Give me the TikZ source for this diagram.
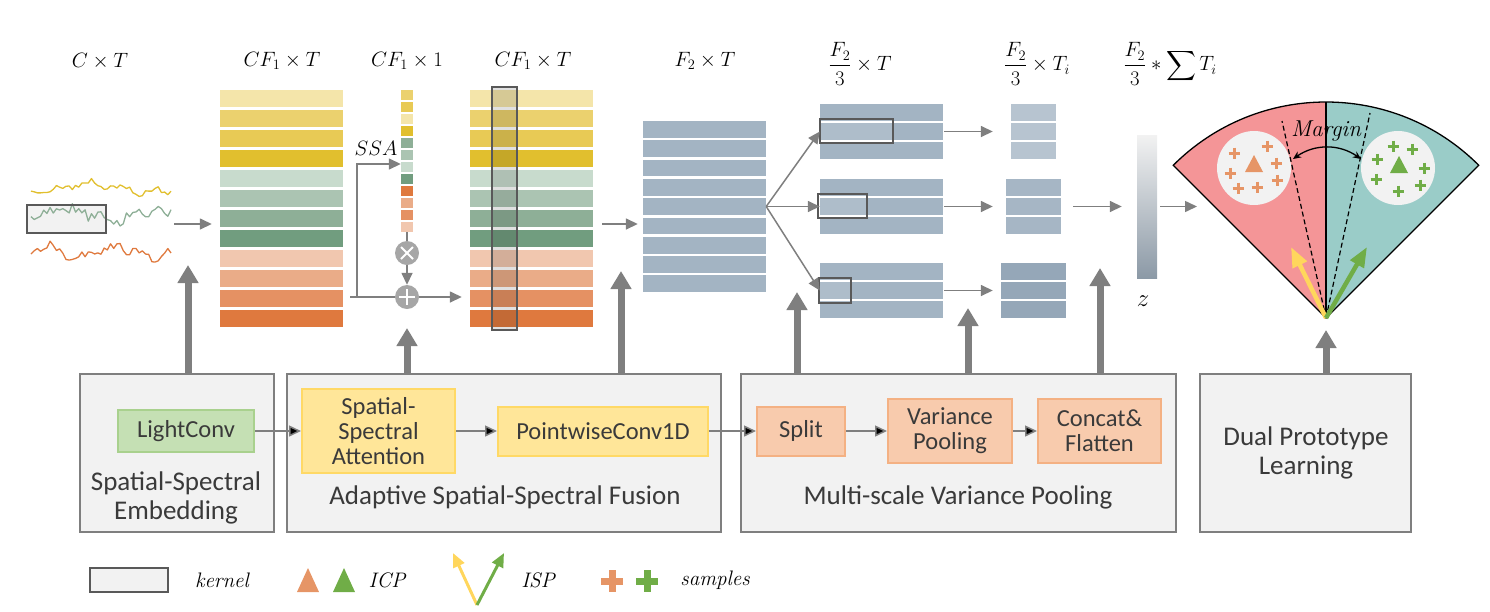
\documentclass[tikz,border=0pt]{standalone}
\usepackage{amsmath}
\usepackage{fontspec}
\newfontfamily\carlito{Carlito}
\usetikzlibrary{arrows.meta,positioning,calc}

\definecolor{ylwA}{HTML}{F4E5AA}
\definecolor{ylwB}{HTML}{EBD16E}
\definecolor{ylwC}{HTML}{E8CA55}
\definecolor{ylwD}{HTML}{E1BF2E}
\definecolor{grnA}{HTML}{C8DBCD}
\definecolor{grnB}{HTML}{ABC4B2}
\definecolor{grnC}{HTML}{8EAF97}
\definecolor{grnD}{HTML}{719D7F}
\definecolor{orgA}{HTML}{F1C7AF}
\definecolor{orgB}{HTML}{EAAC88}
\definecolor{orgC}{HTML}{E59163}
\definecolor{orgD}{HTML}{DF793E}
\definecolor{bluM}{HTML}{A3B4C3}
\definecolor{bluA}{HTML}{B7C4D0}
\definecolor{bluB}{HTML}{A6B6C5}
\definecolor{bluC}{HTML}{95A7B8}
\definecolor{arrgray}{HTML}{7F7F7F}
\definecolor{boxfill}{HTML}{F2F2F2}
\definecolor{kerngray}{HTML}{595959}
\definecolor{txtgray}{HTML}{3A3A3A}
\definecolor{lcfill}{HTML}{C5E0B4}
\definecolor{lcdraw}{HTML}{A9D18E}
\definecolor{yfill}{HTML}{FFE699}
\definecolor{ydraw}{HTML}{FFD966}
\definecolor{ofill}{HTML}{F8CBAD}
\definecolor{odraw}{HTML}{F4B183}
\definecolor{fanred}{HTML}{F49597}
\definecolor{fanteal}{HTML}{9ACCC8}
\definecolor{markorg}{HTML}{E69566}
\definecolor{markgrn}{HTML}{70AD47}
\definecolor{ispylw}{HTML}{FFD65C}

\begin{document}
\begin{tikzpicture}[x=1pt, y=-1pt,
    lbl/.style={font=\fontsize{22}{26}\selectfont},
    leg/.style={font=\fontsize{21}{24}\selectfont\itshape},
    txt/.style={font=\carlito\fontsize{27}{29}\selectfont, text=txtgray, align=center},
    outer/.style={draw=arrgray, fill=boxfill, line width=2.5pt, minimum height=158pt, inner sep=0pt},
    inbox/.style={line width=2pt, inner sep=0pt, align=center, text=txtgray,
        font=\carlito\fontsize{24.5}{25}\selectfont},
    greenbox/.style={inbox, fill=lcfill, draw=lcdraw},
    yellowbox/.style={inbox, fill=yfill, draw=ydraw},
    orangebox/.style={inbox, fill=ofill, draw=odraw},
    stack/.style={inner sep=0pt, draw=none},
    kernel/.style={draw=kerngray, line width=2pt},
    signal/.style={line width=1.3pt, line join=round},
    thin arrow/.style={draw=arrgray, line width=1.5pt, -{Triangle[length=12pt,width=11pt]}},
    big arrow/.style={draw=arrgray, line width=7pt, -{Triangle[length=18pt,width=20pt]}},
    opcircle/.style={circle, fill=black!35, minimum size=24pt, inner sep=0pt},
    sample/.style={line width=3pt},
    ]
    \useasboundingbox (0,0) rectangle (1490,611);

    % Top labels
    \node[lbl] (dimA) at (100,61) {$C\times T$};
    \node[lbl] (dimB) at (282,61) {$CF_1\times T$};
    \node[lbl] (dimC) at (407,61) {$CF_1\times 1$};
    \node[lbl] (dimD) at (533,61) {$CF_1\times T$};
    \node[lbl] (dimE) at (705,61) {$F_2\times T$};
    \node[lbl] (dimF) at (860,64) {$\dfrac{F_2}{3}\times T$};
    \node[lbl] (dimG) at (1037,64) {$\dfrac{F_2}{3}\times T_i$};
    \node[lbl] (dimH) at (1170,64) {$\dfrac{F_2}{3}*\displaystyle\sum T_i$};

    % Input signals
    \fill[boxfill] (27,205) rectangle (106,233);
    \pgfmathsetseed{11}
    \draw[signal, ylwD] plot[domain=31:171, samples=45] (\x,{188+4*sin(3*\x)+3*sin(11*\x)+3*rand});
    \draw[signal, grnC] plot[domain=31:171, samples=45] (\x,{215+5*sin(4*\x)+3*sin(13*\x)+5*rand});
    \draw[signal, orgD] plot[domain=31:171, samples=45] (\x,{252+5*sin(5*\x+40)+3*sin(12*\x)+4*rand});
    \draw[kernel] (27,205) rectangle (106,233);
    \node[stack, minimum width=146pt, minimum height=90pt] (sig) at (100,224) {};

    % Feature stacks
    \foreach \c [count=\i from 0] in {ylwA,ylwB,ylwC,ylwD,grnA,grnB,grnC,grnD,orgA,orgB,orgC,orgD} {
        \fill[\c] (220,{90+20*\i}) rectangle ++(123,17);
        \fill[\c] (470,{90+20*\i}) rectangle ++(123,17);
    }
    \node[stack, minimum width=123pt, minimum height=238pt] (feat) at (281.5,209) {};
    \node[stack, minimum width=123pt, minimum height=238pt] (feat2) at (531.5,209) {};
    \foreach \c [count=\i from 0] in {ylwB,ylwC,ylwA,ylwD,grnC,grnB,grnA,grnD,orgD,orgB,orgC,orgA} {
        \fill[\c] (401,{90+12*\i}) rectangle ++(12,10);
    }
    \node[stack, minimum width=12pt, minimum height=142pt] (att) at (407,161) {};
    \draw[kernel, fill=black, fill opacity=0.12] (492,87) rectangle (517,330);

    % SSA branch
    \node[opcircle] (mul) at (407,253) {};
    \node[opcircle] (add) at (407,297) {};
    \draw[white, line width=2pt] ([shift={(-6,-6)}]mul.center) -- ([shift={(6,6)}]mul.center)
        ([shift={(-6,6)}]mul.center) -- ([shift={(6,-6)}]mul.center);
    \draw[white, line width=2pt] ([shift={(-8,0)}]add.center) -- ([shift={(8,0)}]add.center)
        ([shift={(0,-8)}]add.center) -- ([shift={(0,8)}]add.center);
    \coordinate (br) at (357,297);
    \draw[arrgray, line width=1.5pt] (att) -- (mul);
    \draw[thin arrow] (mul) -- (add);
    \draw[arrgray, line width=1.5pt, shorten <=7pt] (feat.east |- add) -- (add);
    \draw[thin arrow, shorten >=8pt] (add) -- (add -| feat2.west);
    \draw[thin arrow] (br) |- (att.west |- 0,164);
    \node[lbl] (ssalbl) at (376,148) {$SSA$};

    % Fused features
    \foreach \i in {0,...,8} {
        \fill[bluM] (643,{121+19.3*\i}) rectangle ++(123,16.7);
    }
    \node[stack, minimum width=123pt, minimum height=171pt] (fuse) at (704.5,206.5) {};

    % Split stacks and pooled stacks
    \foreach \name/\top/\pw/\pc in {sA/104/45/bluA, sB/179/55/bluB, sC/263/65/bluC} {
        \foreach \i in {0,1,2} {
            \fill[bluM] (820,{\top+19*\i}) rectangle ++(123,17);
            \fill[\pc] ({1033.5-\pw/2},{\top+19*\i}) rectangle ++(\pw,17);
        }
        \node[stack, minimum width=123pt, minimum height=55pt] (\name) at (881.5,{\top+27.5}) {};
        \node[stack, minimum width=\pw pt, minimum height=55pt] (p\name) at (1033.5,{\top+27.5}) {};
    }
    \draw[kernel, fill=white, fill opacity=0.12] (820,119) rectangle (893,143);
    \draw[kernel, fill=white, fill opacity=0.12] (818,194) rectangle (867,218);
    \draw[kernel, fill=white, fill opacity=0.12] (819,278) rectangle (851,303);

    % Embedding z
    \shade[top color=boxfill, bottom color=bluC!85!black!90] (1137,135) rectangle (1157,278);
    \node[stack, minimum width=20pt, minimum height=143pt] (zvec) at (1147,206.5) {};
    \node[lbl, font=\fontsize{27}{30}\selectfont] (zlbl) at (1143,301) {$z$};

    % Paths
    \draw[thin arrow] ([shift={(1,0)}]sig.east) -- ([shift={(-8,0)}]sig.east -| feat.west);
    \draw[thin arrow, shorten <=9pt, shorten >=5pt] (feat2.east |- sig.east) -- (sig.east -| fuse.west);
    \draw[thin arrow] (fuse.east) -- (sA.west);
    \draw[thin arrow] (fuse.east) -- (sB.west);
    \draw[thin arrow] (fuse.east) -- (sC.west);
    \draw[thin arrow, shorten <=1pt, shorten >=18pt] (sA) -- (psA);
    \draw[thin arrow, shorten <=1pt, shorten >=13pt] (sB) -- (psB);
    \draw[thin arrow, shorten <=1pt, shorten >=8pt] (sC) -- (psC);
    \draw[thin arrow, shorten <=12pt, shorten >=15pt] (psB) -- (zvec);
    \coordinate (fanin) at (1197,206.5);
    \draw[thin arrow, shorten <=3pt] (zvec) -- (fanin);

    % Prototype fan
    \coordinate (apex) at (1326,318);
    \fill[fanred] (apex) -- ++(-135:216) arc (-135:-90:216) -- cycle;
    \fill[fanteal] (apex) -- ++(-90:216) arc (-90:-45:216) -- cycle;
    \draw[line width=1.3pt] (apex) -- ++(-135:216) arc (-135:-45:216) -- cycle;
    \draw[line width=1.3pt] (apex) -- ++(-90:216);
    \fill[boxfill] (1254,168) circle (37);
    \fill[boxfill] (1398,168) circle (37);
    \draw[dashed, line width=1.2pt, dash pattern=on 5pt off 3pt] (apex) -- (1282,121);
    \draw[dashed, line width=1.2pt, dash pattern=on 5pt off 3pt] (apex) -- (1370,113);
    \fill[markorg] (1254,155) -- (1263,172) -- (1245,172) -- cycle;
    \fill[markgrn] (1399,156) -- (1408,173) -- (1390,173) -- cycle;
    \foreach \px/\py in {1234/153, 1267/146, 1276/163, 1230/173, 1277/180, 1257/187, 1238/188} {
        \draw[sample, markorg] (\px-5.5,\py) -- (\px+5.5,\py) (\px,\py-5.5) -- (\px,\py+5.5);
    }
    \foreach \px/\py in {1377/159, 1393/146, 1412/149, 1424/168, 1376/179, 1420/185, 1398/191} {
        \draw[sample, markgrn] (\px-5.5,\py) -- (\px+5.5,\py) (\px,\py-5.5) -- (\px,\py+5.5);
    }
    \draw[{Stealth[length=8pt,width=7pt]}-{Stealth[length=8pt,width=7pt]}, line width=1.3pt] (1293,159) to[bend left=35] (1361,159);
    \node[leg, font=\fontsize{23}{26}\selectfont\itshape] (margin) at (1326,131) {Margin};
    \draw[ispylw, line width=4.5pt, -{Triangle[length=20pt,width=15pt]}] (apex) -- (1291,247);
    \draw[markgrn, line width=4.5pt, -{Triangle[length=20pt,width=15pt]}] (apex) -- (1367,247);

    % Module blocks
    \node[outer, minimum width=194pt] (sse) at (177,453) {};
    \node[outer, minimum width=434pt] (assf) at (504,453) {};
    \node[outer, minimum width=435pt] (msvp) at (958.5,453) {};
    \node[outer, minimum width=211pt] (dpl) at (1305.5,453) {};

    \node[greenbox, minimum width=136pt, minimum height=42pt] (lconv) at (186,431) {LightConv};
    \node[yellowbox, minimum width=153pt, minimum height=84pt] (ssa) at (378.5,431) {Spatial-\\Spectral\\Attention};
    \node[yellowbox, minimum width=210pt, minimum height=49pt, right=41pt of ssa] (pwconv) {PointwiseConv1D};
    \node[orangebox, minimum width=88pt, minimum height=49pt] (split) at (801,431) {Split};
    \node[orangebox, minimum width=124pt, minimum height=64pt, right=41pt of split] (varpool) {Variance\\Pooling};
    \node[orangebox, minimum width=123pt, minimum height=64pt, right=24pt of varpool] (concat) {Concat\&\\Flatten};

    \node[txt] (sselbl) at (176,498) {Spatial-Spectral\\Embedding};
    \node[txt] (assflbl) at (505,497) {Adaptive Spatial-Spectral Fusion};
    \node[txt] (msvplbl) at (958,497) {Multi-scale Variance Pooling};
    \node[txt] (dpllbl) at (1306,453) {Dual Prototype\\Learning};

    \path[thin arrow] (lconv) edge (ssa);
    \path[thin arrow] (ssa) edge (pwconv);
    \path[thin arrow] (pwconv) edge (split);
    \path[thin arrow] (split) edge (varpool);
    \path[thin arrow] (varpool) edge (concat);

    % Up arrows
    \foreach \blk/\px/\py in {sse/188/265, assf/407/328, assf/621/271, msvp/797/292, msvp/968/308, msvp/1100/268, dpl/1326/330} {
        \draw[big arrow] (\blk.north -| \px,0) -- (\px,\py);
    }

    % Legend
    \node[kernel, fill=boxfill, minimum width=78pt, minimum height=24pt, inner sep=0pt] (legk) at (129,580) {};
    \node[leg] (legktxt) at (222,580) {kernel};
    \fill[markorg] (297,592) -- (308,568) -- (319,592) -- cycle;
    \fill[markgrn] (333,592) -- (344,568) -- (355,592) -- cycle;
    \node[leg] (legicp) at (387,580) {ICP};
    \coordinate (legapex) at (477,605);
    \draw[ispylw, line width=3pt, -{Triangle[length=14pt,width=12pt]}] (legapex) -- (453,553);
    \draw[markgrn, line width=3pt, -{Triangle[length=14pt,width=12pt]}] (legapex) -- (504,553);
    \node[leg] (legisp) at (538,580) {ISP};
    \draw[markorg, line width=7pt] (601,581) -- (623,581) (612,570) -- (612,592);
    \draw[markgrn, line width=7pt] (636,581) -- (658,581) (647,570) -- (647,592);
    \node[leg] (legsmp) at (715,580) {samples};
\end{tikzpicture}
\end{document}
